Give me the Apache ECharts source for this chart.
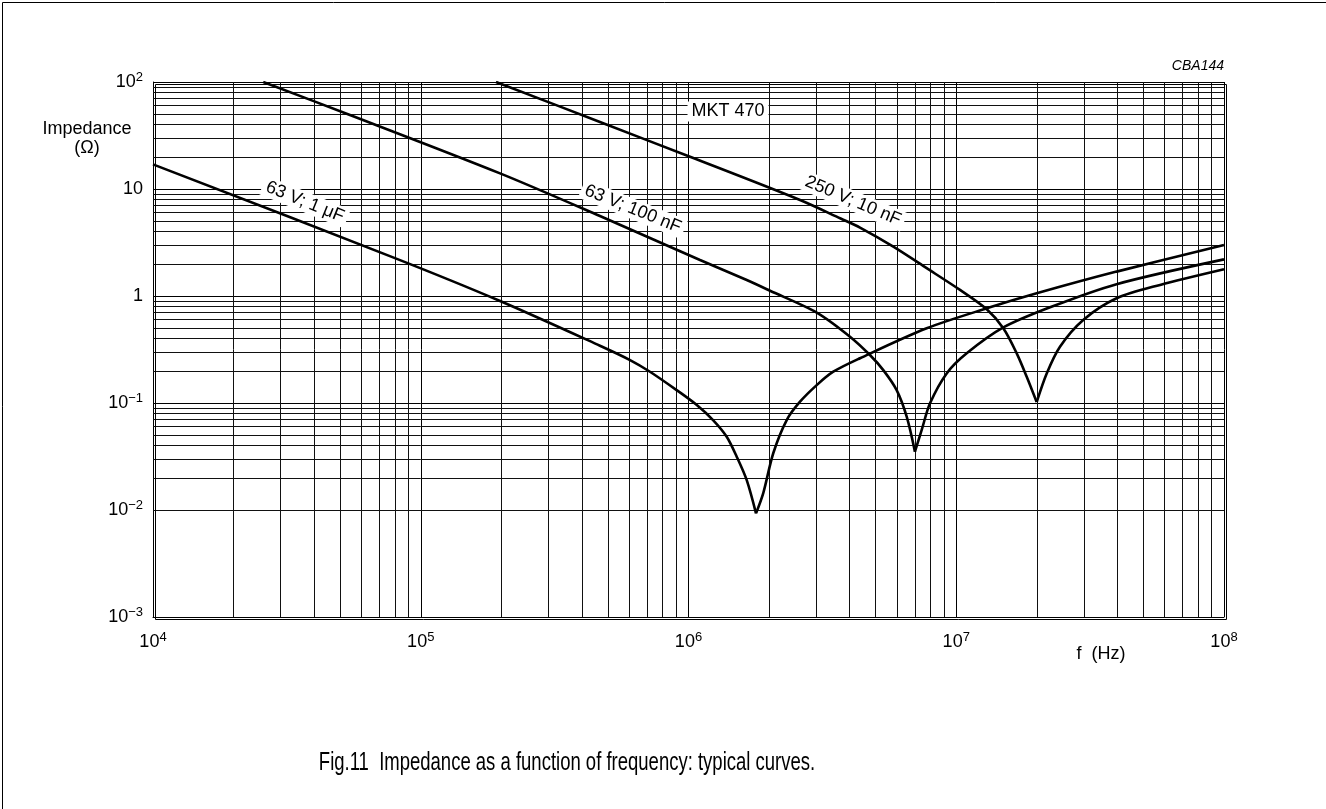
<!DOCTYPE html>
<html>
<head>
<meta charset="utf-8">
<script src="https://cdn.jsdelivr.net/npm/echarts@6/dist/echarts.min.js"></script>
<style>
html, body { margin: 0; padding: 0; background: #fff; }
#chart { width: 1326px; height: 809px; }
</style>
</head>
<body>
<div id="chart"></div>
<script>
// values: frequency in Hz, impedance in ohm
var freq1uF = [1e4, 8.01e4, 1.978e5, 4.67e5, 6.05e5, 7.18e5, 9.03e5, 1.074e6, 1.235e6, 1.389e6, 1.514e6, 1.65e6, 1.787e6,
  1.902e6, 2.074e6, 2.327e6, 2.609e6, 3.012e6, 3.474e6, 4.371e6, 7.755e6, 1.30e7, 1.997e7, 3.97e7, 1e8];
var imp1uF = [17.0, 2.26, 0.898, 0.343, 0.252, 0.196, 0.132, 0.0958, 0.0693, 0.0484, 0.0315, 0.0190, 0.0093,
  0.0144, 0.0341, 0.0693, 0.1028, 0.147, 0.196, 0.262, 0.499, 0.767, 1.059, 1.69, 3.0];

var freq100nF = [2.58e4, 5.44e4, 1.978e5, 4.67e5, 1.104e6, 1.65e6, 2.016e6, 3.012e6, 4.01e6, 4.76e6, 5.34e6, 5.99e6, 6.53e6, 7.01e6,
  7.43e6, 7.98e6, 9.21e6, 1.094e7, 1.499e7, 2.24e7, 3.97e7, 1e8];
var imp100nF = [100, 49.2, 14.0, 5.59, 2.17, 1.41, 1.12, 0.70, 0.417, 0.281, 0.203, 0.132, 0.0745, 0.0351,
  0.056, 0.0993, 0.189, 0.291, 0.508, 0.784, 1.29, 2.20];

var freq10nF = [1.91e5, 4.67e5, 1.013e6, 2.609e6, 3.7e6, 4.371e6, 5.82e6, 7.755e6, 1.033e7, 1.30e7, 1.499e7, 1.682e7, 1.833e7, 1.997e7,
  2.177e7, 2.44e7, 2.98e7, 3.97e7, 5.77e7, 1e8];
var imp10nF = [100, 42.3, 20.0, 7.89, 5.30, 4.36, 2.89, 1.82, 1.14, 0.751, 0.499, 0.291, 0.176, 0.102,
  0.189, 0.336, 0.597, 0.952, 1.27, 1.78];

// curve labels (text, frequency, impedance, angle in degrees)
var labelText = ['63 V; 1 \u03BCF', '63 V; 100 nF', '250 V; 10 nF', 'MKT 470'];
var labelFreq = [3.696e4, 6.2e5, 4.116e6, 1.405e6];
var labelImp = [7.56, 6.5, 7.73, 53.0];
var labelAngle = [-22, -22, -23, 0];

var xDecades = [1e4, 1e5, 1e6, 1e7];
var yDecades = [1e-3, 1e-2, 1e-1, 1, 10];
var minorSteps = [2, 3, 4, 5, 6, 7, 8, 9];

var FONT = '"Liberation Sans", Arial, Helvetica, sans-serif';

function pairs(fs, zs) {
  var out = [];
  for (var i = 0; i < fs.length; i++) out.push([fs[i], zs[i]]);
  return out;
}

// split a curve at its dip so each branch can be smoothed and the cusp stays sharp
function branches(fs, zs) {
  var k = 0;
  for (var i = 1; i < zs.length; i++) if (zs[i] < zs[k]) k = i;
  var all = pairs(fs, zs);
  return [all.slice(0, k + 1), all.slice(k)];
}

function minorValues(decades) {
  var out = [];
  decades.forEach(function (d) {
    minorSteps.forEach(function (m) { out.push(Number((m * d).toPrecision(3))); });
  });
  return out;
}

function expLabel(v) {
  var e = Math.round(Math.log10(v));
  if (e === 0) return '{b|1}';
  if (e === 1) return '{b|10}';
  return '{b|10}{s|' + (e < 0 ? '\u2212' + (-e) : e) + '}';
}

var richText = {
  b: { fontSize: 18, fontFamily: FONT, color: '#000' },
  s: { fontSize: 13, fontFamily: FONT, color: '#000', padding: [0, 0, 9, 0] }
};

var gridLines = [];
minorValues(xDecades).forEach(function (v) { gridLines.push({ xAxis: v }); });
minorValues(yDecades).forEach(function (v) { gridLines.push({ yAxis: v }); });

var series = [{
  type: 'line',
  data: [],
  z: 1,
  silent: true,
  markLine: {
    silent: true,
    symbol: ['none', 'none'],
    label: { show: false },
    lineStyle: { color: '#111', width: 1, type: 'solid' },
    animation: false,
    data: gridLines
  }
}];

[[freq1uF, imp1uF], [freq100nF, imp100nF], [freq10nF, imp10nF]].forEach(function (c) {
  branches(c[0], c[1]).forEach(function (part) {
    series.push({
      type: 'line',
      data: part,
      showSymbol: false,
      smooth: 0.3,
      z: 5,
      lineStyle: { color: '#000', width: 2.6 },
      silent: true
    });
  });
});

var chart = echarts.init(document.getElementById('chart'));
chart.setOption({
  animation: false,
  backgroundColor: '#fff',
  grid: { left: 153, right: 102, top: 82, bottom: 192 },
  xAxis: {
    type: 'log', logBase: 10, min: 1e4, max: 1e8,
    axisLine: { show: true, onZero: false, lineStyle: { color: '#000', width: 1 } },
    axisTick: { show: false },
    splitLine: { show: true, lineStyle: { color: '#000', width: 1 } },
    axisLabel: { margin: 14, formatter: expLabel, rich: richText }
  },
  yAxis: {
    type: 'log', logBase: 10, min: 1e-3, max: 1e2,
    axisLine: { show: true, lineStyle: { color: '#000', width: 1 } },
    axisTick: { show: false },
    splitLine: { show: true, lineStyle: { color: '#000', width: 1 } },
    axisLabel: { margin: 10, formatter: expLabel, rich: richText }
  },
  series: series
});

// labels placed through the chart's own coordinate conversion
var graphics = [
  { type: 'rect', left: 0, top: 0, silent: true,
    shape: { width: 1325, height: 808 },
    style: { fill: 'none', stroke: '#000', lineWidth: 1 } },
  { type: 'rect', left: 153, top: 82, silent: true, z: 10,
    shape: { width: 1071, height: 535 },
    style: { fill: 'none', stroke: '#000', lineWidth: 1 } },
  { type: 'text', x: 87, y: 129, z: 20,
    style: { text: 'Impedance', font: '18px ' + FONT, fill: '#000', align: 'center', verticalAlign: 'middle' } },
  { type: 'text', x: 87, y: 148, z: 20,
    style: { text: '(\u03A9)', font: '18px ' + FONT, fill: '#000', align: 'center', verticalAlign: 'middle' } },
  { type: 'text', x: 1224, y: 66, z: 20,
    style: { text: 'CBA144', font: 'italic 14px ' + FONT, fill: '#000', align: 'right', verticalAlign: 'middle' } },
  { type: 'text', x: 1101, y: 654, z: 20,
    style: { text: 'f  (Hz)', font: '18px ' + FONT, fill: '#000', align: 'center', verticalAlign: 'middle' } },
  // caption is set in a tall, narrow face
  { type: 'text', x: 567, y: 763, z: 20, scaleX: 0.74,
    style: { text: 'Fig.11  Impedance as a function of frequency: typical curves.', font: '25px ' + FONT,
      fill: '#000', align: 'center', verticalAlign: 'middle' } }
];
labelText.forEach(function (t, i) {
  var p = chart.convertToPixel({ gridIndex: 0 }, [labelFreq[i], labelImp[i]]);
  graphics.push({
    type: 'text', x: p[0], y: p[1], z: 20, rotation: labelAngle[i] * Math.PI / 180,
    style: { text: t, font: '18px ' + FONT, fill: '#000', align: 'center', verticalAlign: 'middle',
      backgroundColor: '#fff', padding: [1, 4] }
  });
});
chart.setOption({ graphic: graphics });
</script>
</body>
</html>
